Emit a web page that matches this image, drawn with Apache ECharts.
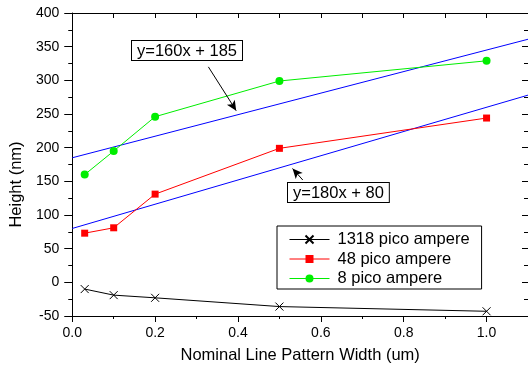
<!DOCTYPE html>
<html>
<head>
<meta charset="utf-8">
<script src="https://cdn.jsdelivr.net/npm/echarts@6/dist/echarts.min.js"></script>
<style>
  html, body { margin: 0; padding: 0; background: #fff; }
  #chart { width: 528px; height: 369px; }
</style>
</head>
<body>
<div id="chart"></div>
<script>
// values
const widths = [0.03, 0.1, 0.2, 0.5, 1.0];
const pa1318 = [-10, -19, -23, -36, -43];
const pa48 = [73, 81, 131, 199, 244];
const pa8 = [160, 195, 246, 299, 329];
const seriesNames = ['1318 pico ampere', '48 pico ampere', '8 pico ampere'];

// fitted straight lines (end points)
const fitX = [0, 1.1];
const fit8 = [185, 361];
const fit48 = [80, 278];
const fitLabels = ['y=160x + 185', 'y=180x + 80'];

// arrows pointing from the labels to the fitted lines [tail, head]
const arrow8 = [[0.3285, 320], [0.3957, 255]];
const arrow48 = [[0.5564, 152], [0.5317, 169]];

const FONT = 'Liberation Sans';
const pairs = (xs, ys) => xs.map((x, i) => [x, ys[i]]);

const chart = echarts.init(document.getElementById('chart'), null, { renderer: 'canvas' });

const axisX = (pos) => ({
  type: 'value',
  position: pos,
  min: 0,
  max: 1.1,
  interval: 0.2,
  splitLine: { show: false },
  axisLine: { show: true, onZero: false, lineStyle: { color: '#000', width: 1 } },
  axisTick: { show: true, inside: pos === 'top', length: pos === 'top' ? 5 : 6, lineStyle: { color: '#000' } },
  minorTick: { show: true, splitNumber: 2, length: pos === 'top' ? 5 : 3, lineStyle: { color: '#000' } },
  axisLabel: {
    show: pos === 'bottom',
    showMaxLabel: false,
    margin: 10,
    color: '#000',
    fontFamily: FONT,
    fontSize: 14,
    formatter: (v) => v.toFixed(1)
  }
});

const axisY = (pos) => ({
  type: 'value',
  position: pos,
  min: -50,
  max: 400,
  interval: 50,
  splitLine: { show: false },
  axisLine: { show: true, onZero: false, lineStyle: { color: '#000', width: 1 } },
  axisTick: { show: true, inside: pos === 'right', length: pos === 'right' ? 6 : 8, lineStyle: { color: '#000' } },
  minorTick: { show: true, splitNumber: 2, length: 4, lineStyle: { color: '#000' } },
  axisLabel: {
    show: pos === 'left',
    margin: 13,
    color: '#000',
    fontFamily: FONT,
    fontSize: 14
  }
});

const xBottom = axisX('bottom');
xBottom.name = 'Nominal Line Pattern Width (um)';
xBottom.nameLocation = 'middle';
xBottom.nameGap = 31;
xBottom.nameTextStyle = { color: '#000', fontFamily: FONT, fontSize: 16.5 };

const yLeft = axisY('left');
yLeft.name = 'Height (nm)';
yLeft.nameLocation = 'middle';
yLeft.nameGap = 42;
yLeft.nameTextStyle = { color: '#000', fontFamily: FONT, fontSize: 16.5, padding: [0, 40, 0, 0] };

const arrowLine = (a) => ({
  silent: true,
  animation: false,
  symbol: ['none', 'arrow'],
  symbolSize: [7, 10],
  label: { show: false },
  lineStyle: { color: '#000', width: 1, type: 'solid' },
  emphasis: { disabled: true },
  data: [[{ coord: a[0] }, { coord: a[1] }]]
});

const option = {
  animation: false,
  backgroundColor: '#fff',
  grid: { left: 71, right: -2, top: 13, bottom: 52 },
  xAxis: [xBottom, axisX('top')],
  yAxis: [yLeft, axisY('right')],
  legend: {
    data: seriesNames,
    orient: 'vertical',
    left: 277,
    top: 226,
    itemWidth: 40,
    itemHeight: 10,
    itemGap: 2.5,
    padding: [5, 12, 2, 12],
    borderColor: '#000',
    borderWidth: 1,
    lineStyle: { width: 1 },
    textStyle: { color: '#000', fontFamily: FONT, fontSize: 16.5, lineHeight: 16, padding: [0, 0, 0, 3] }
  },
  graphic: [
    {
      type: 'text', left: 131, top: 40, silent: true,
      style: {
        text: fitLabels[0], font: '16.5px "Liberation Sans"', fill: '#000',
        padding: [1, 5, 0, 5], borderColor: '#000', borderWidth: 1, lineHeight: 18, backgroundColor: '#fff'
      }
    },
    {
      type: 'text', left: 287, top: 182, silent: true,
      style: {
        text: fitLabels[1], font: '16.5px "Liberation Sans"', fill: '#000',
        padding: [1, 5, 0, 5], borderColor: '#000', borderWidth: 1, lineHeight: 18, backgroundColor: '#fff'
      }
    }
  ],
  series: [
    {
      name: 'fit8', type: 'line', data: pairs(fitX, fit8), showSymbol: false, silent: true,
      lineStyle: { color: '#0000ff', width: 1 }, markLine: arrowLine(arrow8)
    },
    {
      name: 'fit48', type: 'line', data: pairs(fitX, fit48), showSymbol: false, silent: true,
      lineStyle: { color: '#0000ff', width: 1 }, markLine: arrowLine(arrow48)
    },
    {
      name: seriesNames[0], type: 'line', data: pairs(widths, pa1318),
      symbol: 'path://M0,0L10,10M10,0L0,10', symbolSize: 8,
      itemStyle: { color: '#000', borderColor: '#000', borderWidth: 1 },
      lineStyle: { color: '#000', width: 1 }
    },
    {
      name: seriesNames[1], type: 'line', data: pairs(widths, pa48),
      symbol: 'rect', symbolSize: 7,
      itemStyle: { color: '#ff0000', borderWidth: 0 },
      lineStyle: { color: '#ff0000', width: 1 }
    },
    {
      name: seriesNames[2], type: 'line', data: pairs(widths, pa8),
      symbol: 'circle', symbolSize: 8,
      itemStyle: { color: '#00ee00', borderWidth: 0 },
      lineStyle: { color: '#00ee00', width: 1 }
    }
  ]
};

chart.setOption(option);
</script>
</body>
</html>
